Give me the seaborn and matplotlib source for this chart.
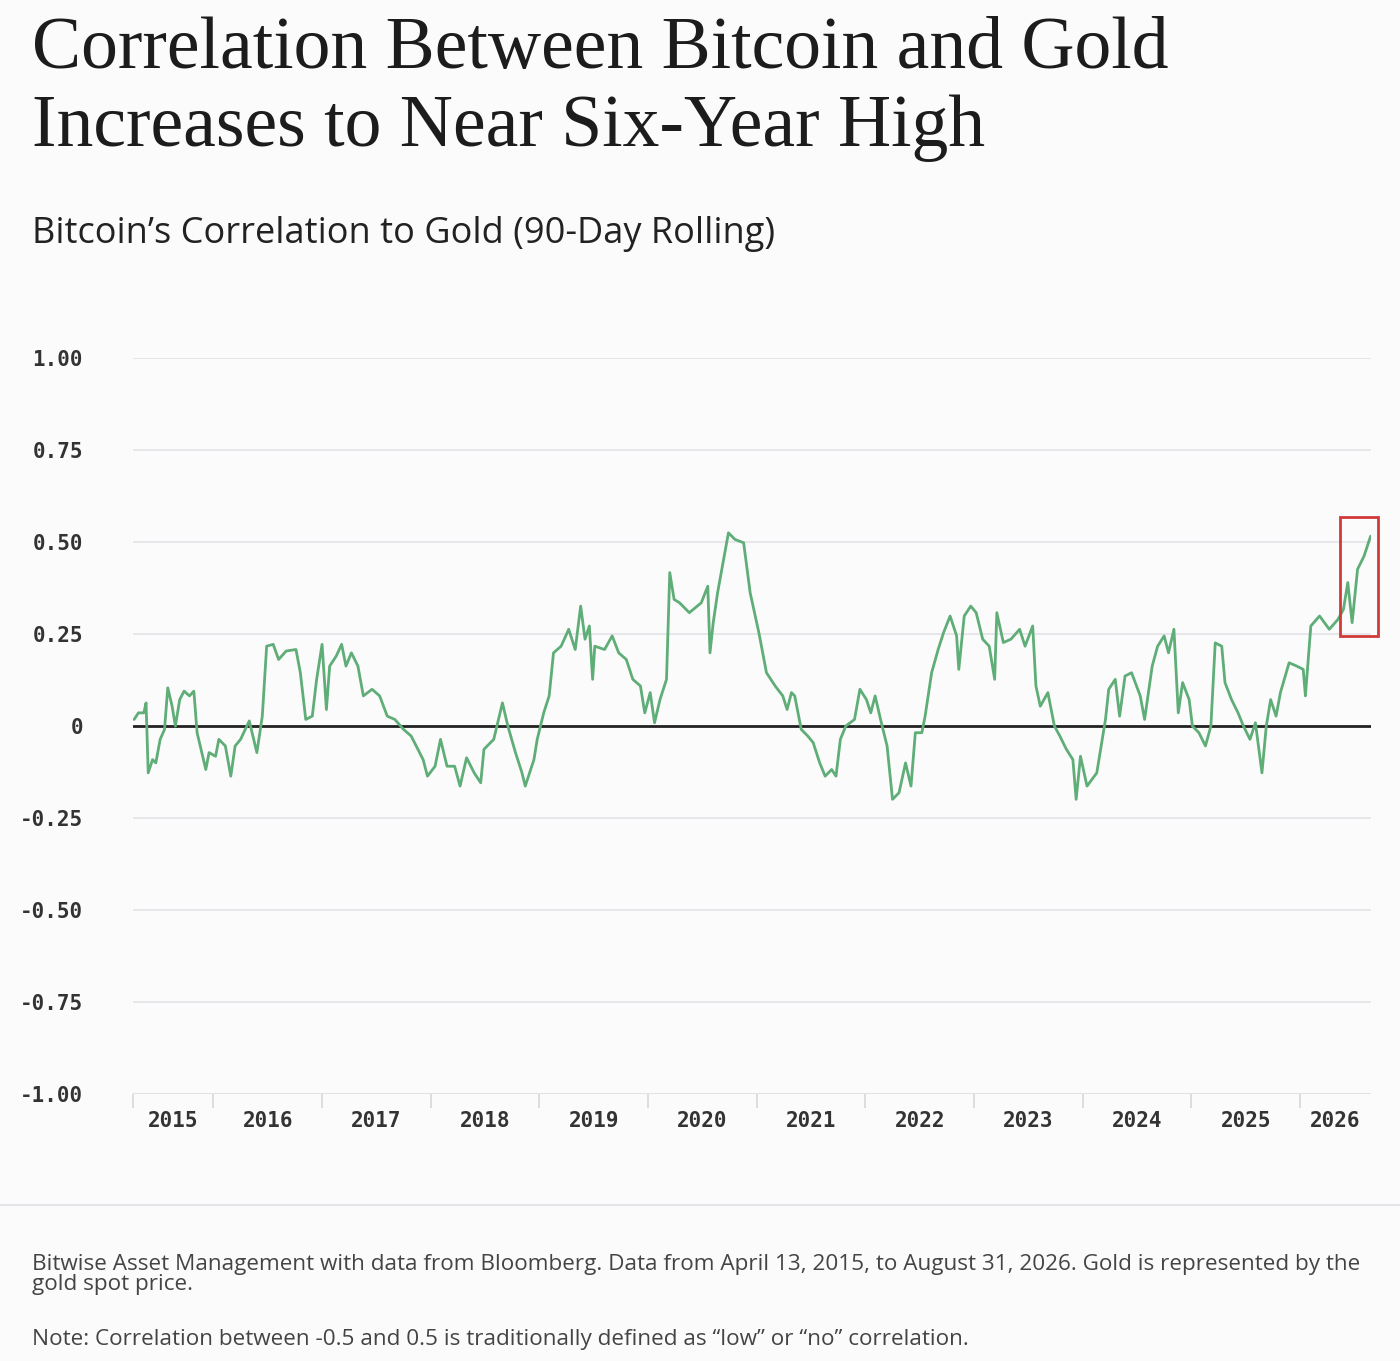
import matplotlib
matplotlib.use("Agg")
import matplotlib.pyplot as plt
import matplotlib.patches as mpatches
import seaborn as sns
import pandas as pd
import numpy as np

# fractional years and rolling correlation values
years = [2015.27,2015.31,2015.36,2015.38,2015.40,2015.44,2015.47,2015.51,2015.55,2015.58,2015.62,2015.65,2015.69,2015.73,2015.78,2015.82,2015.85,2015.93,2015.96,
 2016.02,2016.05,2016.11,2016.16,2016.20,2016.25,2016.33,2016.40,2016.45,2016.49,2016.55,2016.60,2016.67,2016.76,2016.80,2016.85,2016.91,2016.95,
 2017.00,2017.04,2017.07,2017.13,2017.18,2017.22,2017.27,2017.33,2017.38,2017.46,2017.53,2017.60,2017.67,2017.75,2017.82,2017.93,2017.97,
 2018.04,2018.09,2018.15,2018.22,2018.27,2018.33,2018.40,2018.46,2018.49,2018.58,2018.66,2018.71,2018.78,2018.84,2018.87,2018.95,2018.98,
 2019.04,2019.09,2019.13,2019.20,2019.27,2019.33,2019.38,2019.42,2019.46,2019.49,2019.51,2019.60,2019.67,2019.73,2019.80,2019.86,2019.93,2019.97,
 2020.02,2020.06,2020.11,2020.17,2020.20,2020.24,2020.29,2020.38,2020.49,2020.55,2020.57,2020.60,2020.64,2020.69,2020.74,2020.80,2020.88,2020.94,
 2021.02,2021.09,2021.17,2021.24,2021.28,2021.32,2021.35,2021.41,2021.47,2021.52,2021.58,2021.63,2021.69,2021.73,2021.77,2021.82,2021.90,2021.95,
 2022.01,2022.05,2022.09,2022.14,2022.20,2022.25,2022.31,2022.37,2022.42,2022.46,2022.52,2022.55,2022.61,2022.67,2022.72,2022.78,2022.84,2022.86,2022.91,2022.97,
 2023.02,2023.08,2023.14,2023.19,2023.21,2023.27,2023.34,2023.42,2023.47,2023.54,2023.57,2023.61,2023.68,2023.74,2023.79,2023.85,2023.91,2023.94,2023.98,
 2024.04,2024.13,2024.21,2024.24,2024.30,2024.34,2024.39,2024.45,2024.53,2024.57,2024.64,2024.69,2024.75,2024.79,2024.84,2024.88,2024.92,2024.98,
 2025.01,2025.07,2025.13,2025.18,2025.22,2025.28,2025.31,2025.37,2025.43,2025.48,2025.54,2025.59,2025.65,2025.69,2025.73,2025.78,2025.82,2025.90,2025.97,
 2026.03,2026.05,2026.10,2026.18,2026.27,2026.35,2026.40,2026.44,2026.48,2026.53,2026.59,2026.65]
corr = [0.018,0.036,0.036,0.063,-0.127,-0.091,-0.100,-0.036,-0.009,0.104,0.054,0.000,0.072,0.095,0.082,0.095,-0.018,-0.118,-0.072,
 -0.082,-0.036,-0.054,-0.136,-0.054,-0.036,0.014,-0.072,0.027,0.217,0.222,0.181,0.204,0.208,0.145,0.018,0.027,0.127,
 0.222,0.045,0.163,0.190,0.222,0.163,0.199,0.163,0.082,0.100,0.082,0.027,0.018,-0.009,-0.027,-0.091,-0.136,
 -0.109,-0.036,-0.109,-0.109,-0.163,-0.086,-0.127,-0.154,-0.063,-0.036,0.063,0.000,-0.072,-0.127,-0.163,-0.091,-0.036,
 0.036,0.082,0.199,0.217,0.263,0.208,0.326,0.236,0.272,0.127,0.217,0.208,0.245,0.199,0.181,0.127,0.109,0.036,
 0.091,0.009,0.072,0.127,0.417,0.344,0.335,0.308,0.335,0.380,0.199,0.281,0.362,0.444,0.525,0.507,0.498,0.362,
 0.254,0.145,0.109,0.082,0.045,0.091,0.082,-0.009,-0.027,-0.045,-0.100,-0.136,-0.118,-0.136,-0.036,0.000,0.018,0.100,
 0.072,0.036,0.082,0.018,-0.054,-0.199,-0.181,-0.100,-0.163,-0.018,-0.018,0.027,0.145,0.208,0.254,0.299,0.245,0.154,0.299,0.326,
 0.308,0.236,0.217,0.127,0.308,0.227,0.236,0.263,0.217,0.272,0.109,0.054,0.091,0.000,-0.027,-0.063,-0.091,-0.199,-0.082,
 -0.163,-0.127,0.018,0.100,0.127,0.027,0.136,0.145,0.082,0.018,0.163,0.217,0.245,0.199,0.263,0.036,0.118,0.072,
 0.000,-0.018,-0.054,0.000,0.226,0.217,0.118,0.072,0.036,0.000,-0.036,0.009,-0.127,0.000,0.072,0.027,0.091,0.172,0.163,
 0.154,0.082,0.272,0.299,0.263,0.290,0.317,0.390,0.281,0.426,0.462,0.516]
ytick_vals = [1.0, 0.75, 0.5, 0.25, 0.0, -0.25, -0.5, -0.75, -1.0]
ytick_labels = ["1.00", "0.75", "0.50", "0.25", "0", "-0.25", "-0.50", "-0.75", "-1.00"]
year_labels = ["2015","2016","2017","2018","2019","2020","2021","2022","2023","2024","2025","2026"]

df = pd.DataFrame({"year": years, "corr": corr})

sns.set_theme(style="white")
plt.rcParams['font.family'] = ['DejaVu Sans']
bg = "#fbfbfc"
fig = plt.figure(figsize=(14, 13.61), dpi=100, facecolor=bg)
ax = fig.add_axes([0.095, 0.196, 0.884, 0.541], facecolor=bg)

for v in ytick_vals:
    if v != 0 and v != -1.0:
        ax.axhline(v, color="#e4e4e8", lw=1.2, zorder=0)
ax.axhline(0, color="#222222", lw=2, zorder=1)
ax.axhline(-1.0, color="#dcdce0", lw=1.2, zorder=0)

sns.lineplot(data=df, x="year", y="corr", ax=ax, color="#5fad77", lw=2, zorder=3)

xmin, xmax = 2015.26, 2026.65
ax.set_xlim(xmin, xmax)
ax.set_ylim(-1.0, 1.0)
ax.set_yticks(ytick_vals)
ax.set_yticklabels(ytick_labels, family="DejaVu Sans Mono", fontsize=15, fontweight="bold", color="#333333")
ax.tick_params(axis="y", length=0, pad=36)
bounds = [xmin] + [float(y) for y in range(2016, 2027)]
ax.set_xticks(bounds)
ax.set_xticklabels([])
ax.tick_params(axis="x", length=10, width=1.2, color="#d8d8dc", direction="out", bottom=True)
ends = bounds[1:] + [xmax]
for lab, a, b in zip(year_labels, bounds, ends):
    ax.text((a + b) / 2, -1.045, lab, ha="center", va="top", family="DejaVu Sans Mono",
            fontsize=15, fontweight="bold", color="#333333", transform=ax.transData)
ax.set_xlabel("")
ax.set_ylabel("")
for s in ax.spines.values():
    s.set_visible(False)

rect = mpatches.Rectangle((2026.37, 0.245), 0.35, 0.323, fill=False, ec="#d23a3a", lw=2, clip_on=False, zorder=5)
ax.add_patch(rect)

fig.text(0.023, 0.988, "Correlation Between Bitcoin and Gold\nIncreases to Near Six-Year High",
         family="Liberation Serif", fontsize=53, color="#1c1c1c", va="top", ha="left", linespacing=1.2)
fig.text(0.023, 0.828, "Bitcoin\u2019s Correlation to Gold (90-Day Rolling)", family="Open Sans",
         fontsize=26, color="#222222", va="center", ha="left")
fig.add_artist(plt.Line2D([0, 1], [1 - 1205/1361]*2, color="#e6e6ea", lw=1.5))
fig.text(0.023, 0.0635, "Bitwise Asset Management with data from Bloomberg. Data from April 13, 2015, to August 31, 2026. Gold is represented by the\ngold spot price.",
         family="Open Sans", fontsize=16.2, color="#444444", va="center", ha="left", linespacing=0.95)
fig.text(0.023, 0.016, "Note: Correlation between -0.5 and 0.5 is traditionally defined as \u201clow\u201d or \u201cno\u201d correlation.",
         family="Open Sans", fontsize=16.2, color="#444444", va="center", ha="left")

fig.savefig("out.png", dpi=100, facecolor=bg)
